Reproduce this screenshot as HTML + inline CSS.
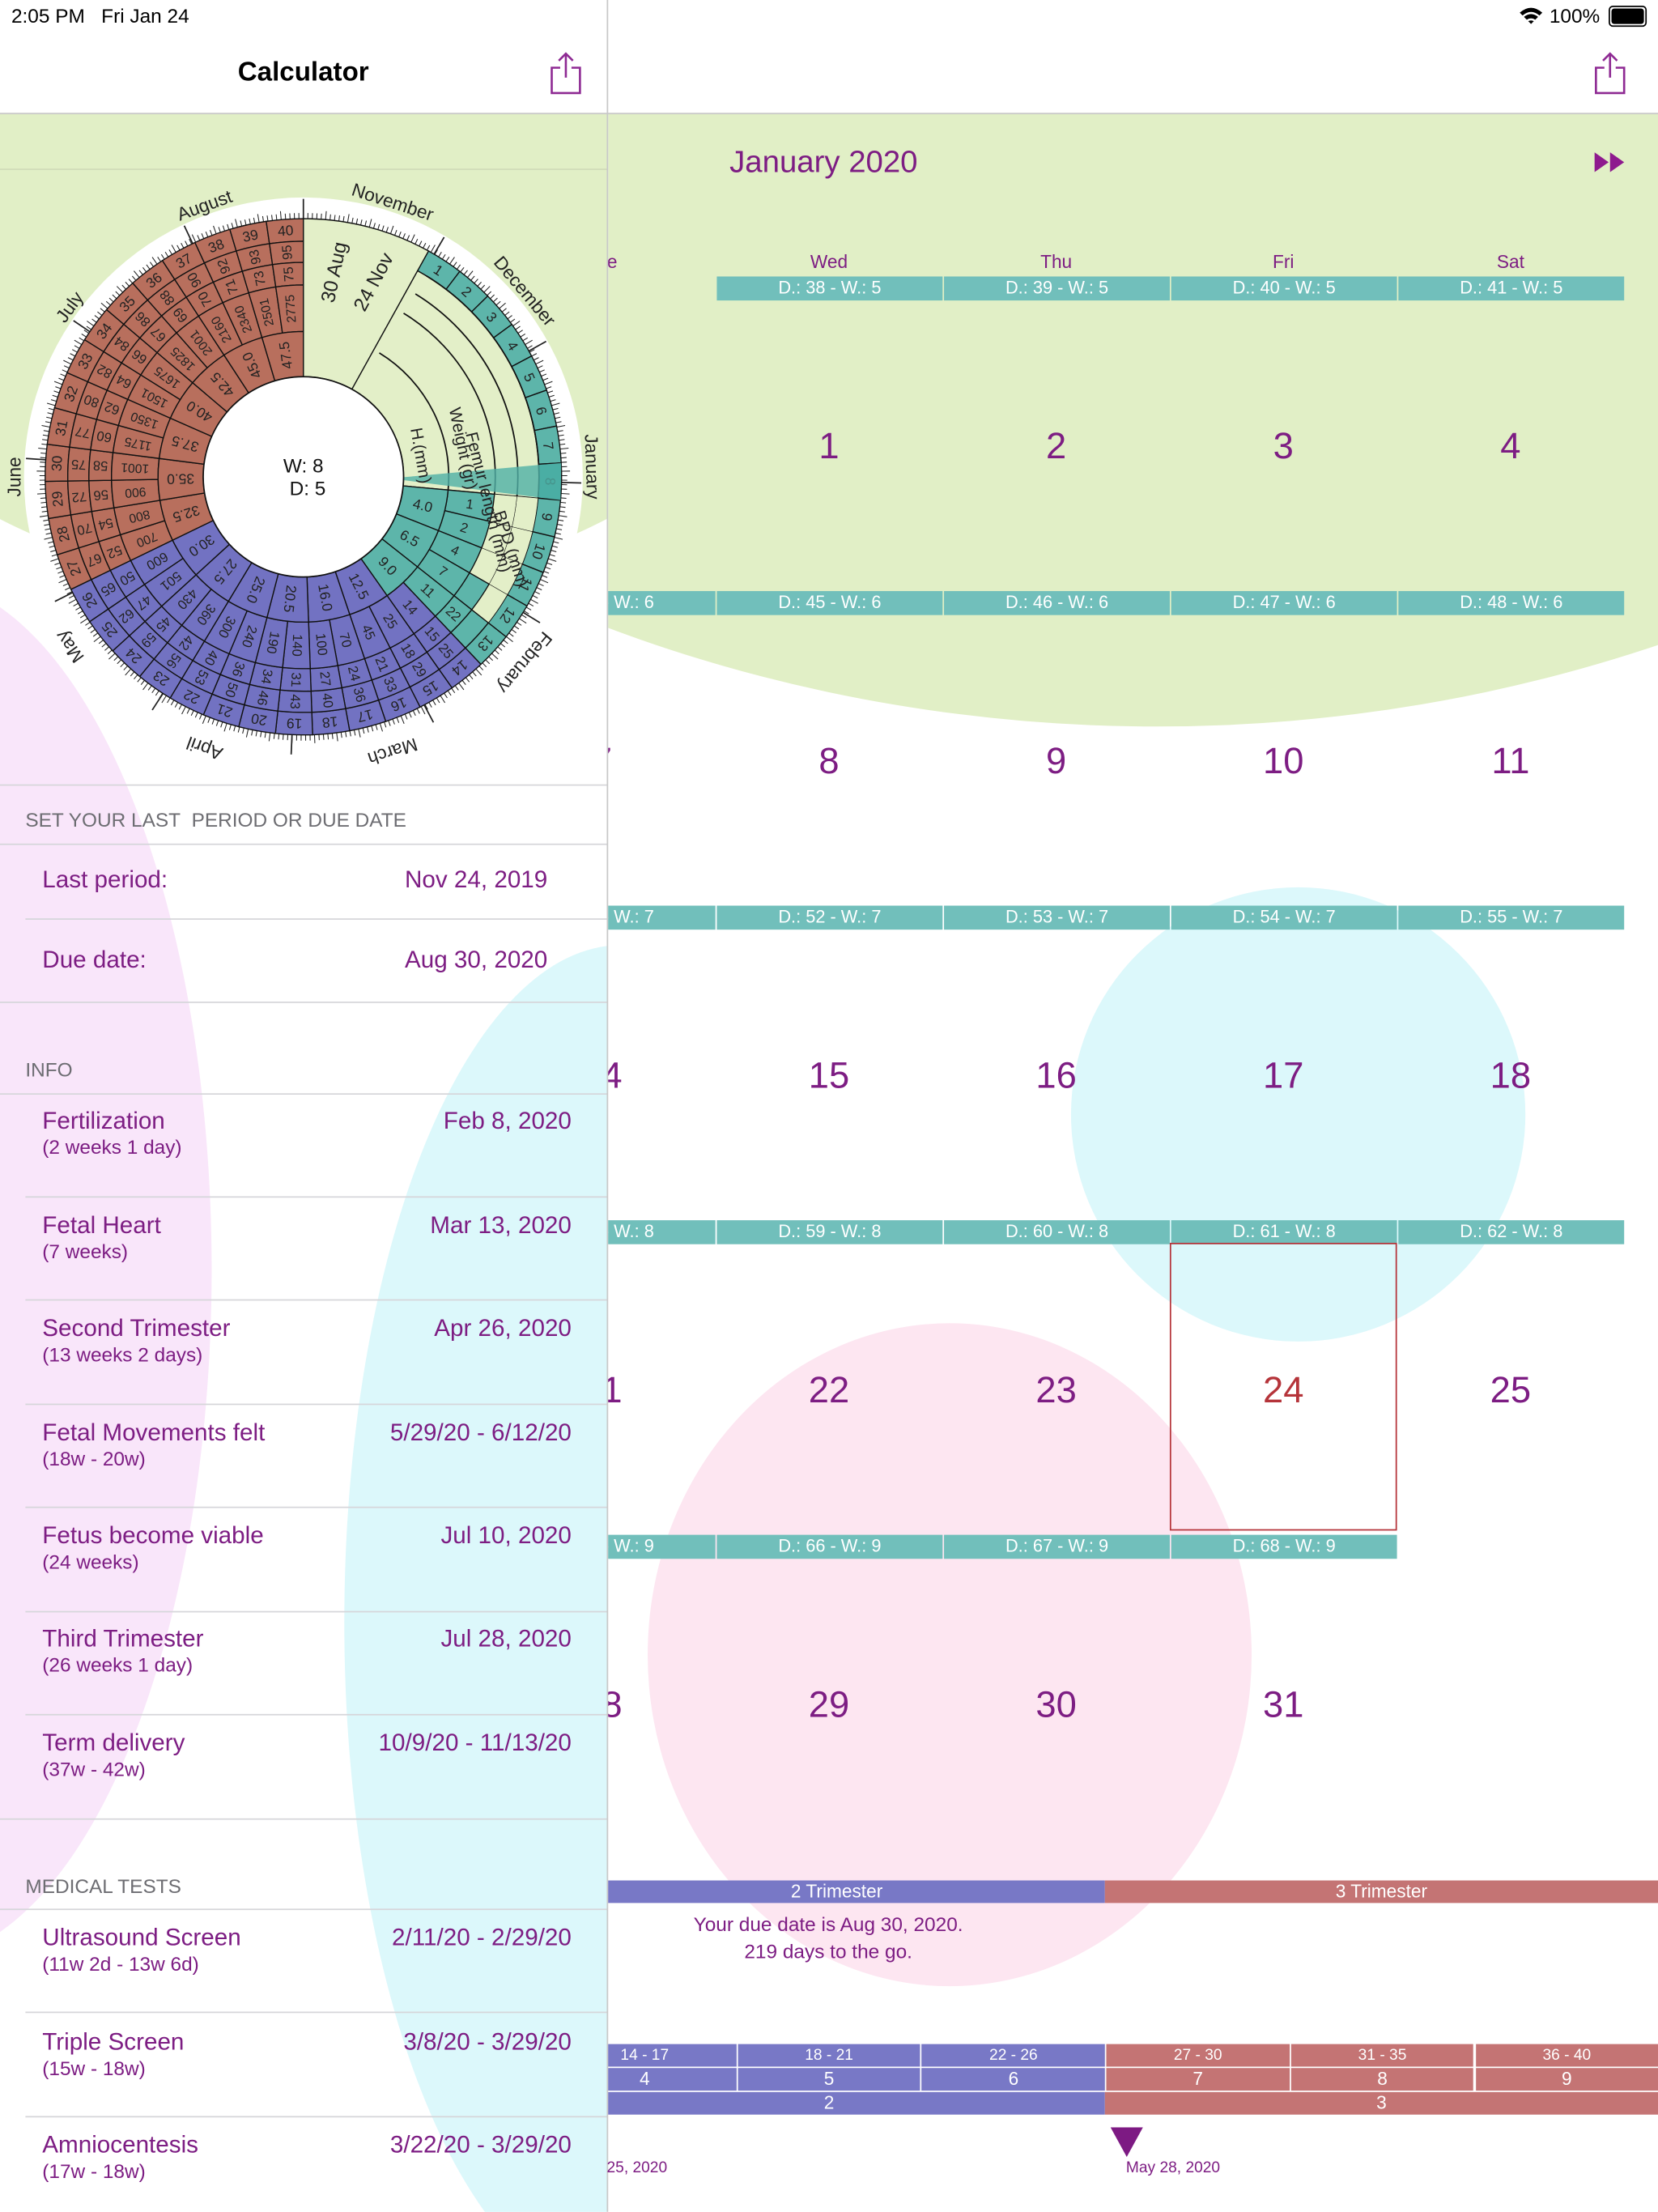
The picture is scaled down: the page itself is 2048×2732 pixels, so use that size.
<!DOCTYPE html>
<html><head><meta charset="utf-8">
<style>
html,body{margin:0;padding:0;width:2048px;height:2732px;overflow:hidden;background:#fff}
#w{position:absolute;left:0;top:0;width:1175px;height:1568px;transform:scale(1.743,1.7423);transform-origin:0 0;overflow:hidden;font-family:"Liberation Sans",sans-serif;color:#7d1d83}
.a{position:absolute;white-space:nowrap}
.g{color:#6d6d72;font-size:14px}
.ln{position:absolute;height:1px;background:#d6d6da}
.t{font-size:17px}
.s{font-size:14px}
.bar{position:absolute;height:17px;background:#71bfbb;color:#fff;font-size:12.5px;text-align:center;line-height:17px;overflow:hidden}
.num{position:absolute;font-size:26px;text-align:center;width:161px}
</style></head><body>
<div id="w">
<svg class="a" style="left:0;top:0" width="1175" height="1568">
 <defs><clipPath id="cl"><rect x="0" y="80" width="430" height="1488"/></clipPath>
 <clipPath id="cr"><rect x="431" y="80" width="744" height="1488"/></clipPath></defs>
 <g clip-path="url(#cl)">
  <circle cx="215" cy="-50" r="470" fill="#e1efc6"/>
  <ellipse cx="-60" cy="900" rx="210" ry="490" fill="#f9e6fa"/>
  <ellipse cx="440" cy="1150" rx="196" ry="480" fill="#dcf8fb"/>
 </g>
 <g clip-path="url(#cr)">
  <ellipse cx="820" cy="-300" rx="960" ry="815" fill="#e1efc6"/>
  <circle cx="920" cy="790" r="161" fill="#dcf8fb"/>
  <ellipse cx="673" cy="1173" rx="214" ry="235" fill="#fde6f1"/>
 </g>
 <line x1="0" y1="120" x2="430" y2="120" stroke="#d0dcb8"/>
 <line x1="0" y1="80.5" x2="1175" y2="80.5" stroke="#c8c8c8"/>
 <line x1="430.5" y1="0" x2="430.5" y2="1568" stroke="#c8c8c8"/>
 <g id="wheel"></g>
</svg>

<div class="a" style="left:8px;top:3px;font-size:14px;color:#000">2:05 PM&nbsp;&nbsp; Fri Jan 24</div>
<div class="a" style="left:1098px;top:3px;font-size:14px;color:#000">100%</div>
<svg class="a" style="left:1076px;top:4px" width="18" height="14"><path d="M1 5 Q9 -2 17 5 L15 7 Q9 2 3 7Z M4 8 Q9 4 14 8 L12 10 Q9 8 6 10Z M7 11 Q9 10 11 11 L9 13Z" fill="#000"/></svg>
<div class="a" style="left:1140px;top:4px;width:23px;height:11px;border:1px solid #000;border-radius:3px;padding:1px;box-sizing:content-box"><div style="width:23px;height:11px;background:#000;border-radius:2px"></div></div>
<div class="a" style="left:0;top:41px;width:430px;text-align:center;font-size:19px;font-weight:bold;color:#000">Calculator</div>
<svg class="a" style="left:389px;top:36px" width="24" height="32"><path d="M12 2 V19 M7 7 L12 2 L17 7 M8 12 H2 V30 H22 V12 H16" fill="none" stroke="#8e2a93" stroke-width="1.5"/></svg>
<svg class="a" style="left:1129px;top:36px" width="24" height="32"><path d="M12 2 V19 M7 7 L12 2 L17 7 M8 12 H2 V30 H22 V12 H16" fill="none" stroke="#8e2a93" stroke-width="1.5"/></svg>

<div class="ln" style="left:0;top:556px;width:430px"></div>
<div class="a g" style="left:18px;top:573px">SET YOUR LAST&nbsp; PERIOD OR DUE DATE</div>
<div class="ln" style="left:0;top:598px;width:430px"></div>
<div class="a t" style="left:30px;top:614px">Last period:</div><div class="a t" style="right:787px;top:614px">Nov 24, 2019</div>
<div class="ln" style="left:18px;top:651px;width:412px"></div>
<div class="a t" style="left:30px;top:671px">Due date:</div><div class="a t" style="right:787px;top:671px">Aug 30, 2020</div>
<div class="ln" style="left:0;top:710px;width:430px"></div>
<div class="a g" style="left:18px;top:750px">INFO</div>
<div class="ln" style="left:0;top:775px;width:430px"></div>
<div id="info"></div>

<div class="a" style="left:517px;top:102px;font-size:22px">January 2020</div>
<svg class="a" style="left:1130px;top:108px" width="22" height="14"><path d="M0 0 L10 7 L0 14Z M11 0 L21 7 L11 14Z" fill="#8e1a8e"/></svg>
<div id="cal" class="a" style="left:431px;top:0;width:744px;height:1568px;overflow:hidden"></div>
<div class="a" style="left:829px;top:881px;width:159px;height:202px;border:1px solid #b5343a"></div>

<div class="a" style="left:431px;top:1333px;width:744px;height:170px;overflow:hidden">
<div class="a" style="left:-28px;top:0;width:380px;height:16px;background:#7878c6;color:#fff;font-size:13px;text-align:center;line-height:16px">2 Trimester</div>
<div class="a" style="left:352px;top:0;width:392px;height:16px;background:#c47474;color:#fff;font-size:13px;text-align:center;line-height:16px">3 Trimester</div>
<div id="tl"></div>
</div>
<div class="a" style="left:431px;top:1355px;width:312px;text-align:center;font-size:14px;line-height:19px">Your due date is Aug 30, 2020.<br>219 days to the go.</div>
<svg class="a" style="left:787px;top:1508px" width="24" height="22"><path d="M0 0 H23 L11.5 21Z" fill="#7d1a83"/></svg>
<div class="a" style="left:430px;top:1531px;font-size:11px">25, 2020</div>
<div class="a" style="left:798px;top:1531px;font-size:11px">May 28, 2020</div>
</div>
<script>
var NS="http://www.w3.org/2000/svg";
var W=document.getElementById('wheel');
function el(t,a,p){var e=document.createElementNS(NS,t);for(var k in a)e.setAttribute(k,a[k]);(p||W).appendChild(e);return e;}
var cx=215,cy=338;
function pt(r,a){var d=a*Math.PI/180;return [cx+r*Math.sin(d),cy-r*Math.cos(d)];}
function sec(r1,r2,a1,a2,fill,sw){var p1=pt(r2,a1),p2=pt(r2,a2),p3=pt(r1,a2),p4=pt(r1,a1);var lg=(a2-a1)>180?1:0;
 el('path',{d:'M'+p1+' A'+r2+' '+r2+' 0 '+lg+' 1 '+p2+' L'+p3+' A'+r1+' '+r1+' 0 '+lg+' 0 '+p4+'Z',fill:fill,stroke:'#111','stroke-width':sw||0.8});}
function txt(s,r,a,rot,size){var p=pt(r,a);var t=el('text',{x:p[0],y:p[1],'font-size':size||10,'text-anchor':'middle','dominant-baseline':'central',fill:'#222',transform:'rotate('+rot+' '+p[0]+' '+p[1]+')','font-family':'Liberation Sans,sans-serif'});t.textContent=s;return t;}
el('circle',{cx:cx,cy:cy,r:198,fill:'#fff'});
for(var i=0;i<365;i++){var a=i*360/365;var p1=pt(183,a),p2=pt(i%5==0?189:187,a);el('line',{x1:p1[0],y1:p1[1],x2:p2[0],y2:p2[1],stroke:'#222','stroke-width':0.6});}
for(var m=0;m<12;m++){var a=m*30.42;var p1=pt(183,a),p2=pt(197,a);el('line',{x1:p1[0],y1:p1[1],x2:p2[0],y2:p2[1],stroke:'#222','stroke-width':1});}
var LG='#e3efc8';
sec(71,183,0,29,LG);
var S=8.275;
function col(i){return i<=13?'#5db5aa':(i<=26?'#7272c2':'#b86f5d');}
var bpd={},fem={},wt={};
var bv=[25,29,33,36,40,43,46,50,53,56,59,62,65,67,70,72,75,77,80,82,84,86,88,90,92,93,95];
var fv=[15,18,21,24,27,31,34,36,40,42,45,47,50,52,54,56,58,60,62,64,66,67,69,70,71,73,75];
var wv=[14,25,45,70,100,140,190,240,300,360,430,501,600,700,800,900,1001,1175,1350,1501,1675,1825,2001,2160,2340,2501,2775];
for(var i=14;i<=40;i++){bpd[i]=bv[i-14];fem[i]=fv[i-14];wt[i]=wv[i-14];}
wt[9]=1;wt[10]=2;wt[11]=4;wt[12]=7;wt[13]=11;fem[13]=22;
sec(71,167,29,29+8*S,LG);
for(var i=1;i<=40;i++){var a1=29+(i-1)*S,a2=a1+S,am=(a1+a2)/2;
 sec(167,183,a1,a2,i==8?'#3aa49a':col(i));txt(String(i),175,am,am,10);
 if(i<=8)continue;
 var c=col(i);
 if(i<=12){sec(152,167,a1,a2,LG,0.3);}else{sec(152,167,a1,a2,c);}
 if(i<=11){sec(136,152,a1,a2,LG,0.3);}else{sec(136,152,a1,a2,c);}
 sec(103,136,a1,a2,c);
 if(bpd[i])txt(String(bpd[i]),159.5,am,am-90,9.5);
 if(fem[i])txt(String(fem[i]),144,am,am-90,9.5);
 if(wt[i])txt(String(wt[i]),119.5,am,am-90,i>26?9:9.5);
}
var hv=["4.0","6.5","9.0","12.5","16.0","20.5","25.0","27.5","30.0","32.5","35.0","37.5","40.0","42.5","45.0","47.5"];
for(var k=0;k<16;k++){var w1=9+2*k;var a1=29+(w1-1)*S,a2=a1+2*S,am=(a1+a2)/2;sec(71,103,a1,a2,col(w1));txt(hv[k],87,am,am-90,10);}
// arcs in light area
[103,136,152,167].forEach(function(r){var p1=pt(r,29+S*0.3),p2=pt(r,29+8*S);el('path',{d:'M'+p1+' A'+r+' '+r+' 0 0 1 '+p2,fill:'none',stroke:'#111','stroke-width':1});});
var a8=29+7*S;el('path',{d:(function(){var p1=pt(183,a8),p2=pt(183,a8+S),p3=pt(71,a8+S*0.6),p4=pt(71,a8+S*0.4);return 'M'+p1+' L'+p2+' L'+p3+' L'+p4+'Z';})(),fill:'#4fb0a6',opacity:0.8});
el('circle',{cx:cx,cy:cy,r:71,fill:'#fff',stroke:'#111','stroke-width':1});
var t=el('text',{x:215,y:335,'font-size':14,'text-anchor':'middle',fill:'#111','font-family':'Liberation Sans,sans-serif'});t.textContent='W: 8';
t=el('text',{x:218,y:351,'font-size':14,'text-anchor':'middle',fill:'#111','font-family':'Liberation Sans,sans-serif'});t.textContent='D: 5';
function lab(s,x,y,r,sz){var t=el('text',{x:x,y:y,'font-size':sz||13,'text-anchor':'middle','dominant-baseline':'central',fill:'#222',transform:'rotate('+r+' '+x+' '+y+')','font-family':'Liberation Sans,sans-serif'});t.textContent=s;}
lab('30 Aug',237,193,-78,14);lab('24 Nov',265,200,-62,14);
lab('H.(mm)',298,323,80,12);lab('Weight (gr)',328,318,78,12);lab('Femur length (mm)',346,356,76,12);lab('BPD (mm)',362,389,72,12);
var months=[['November',18],['December',50],['January',88],['February',130],['March',162],['April',200],['May',234],['June',270],['July',306],['August',340]];
months.forEach(function(m){txt(m[0],205,m[1],m[1],13);});
var info=document.getElementById('info');
var items=[['Fertilization','(2 weeks 1 day)','Feb 8, 2020',794],['Fetal Heart','(7 weeks)','Mar 13, 2020',868],['Second Trimester','(13 weeks 2 days)','Apr 26, 2020',941],['Fetal Movements felt','(18w - 20w)','5/29/20 - 6/12/20',1015],['Fetus become viable','(24 weeks)','Jul 10, 2020',1088],['Third Trimester','(26 weeks 1 day)','Jul 28, 2020',1161],['Term delivery','(37w - 42w)','10/9/20 - 11/13/20',1235],
['Ultrasound Screen','(11w 2d - 13w 6d)','2/11/20 - 2/29/20',1373],['Triple Screen','(15w - 18w)','3/8/20 - 3/29/20',1447],['Amniocentesis','(17w - 18w)','3/22/20 - 3/29/20',1520]];
var h='';
items.forEach(function(it){var y=it[3];h+='<div class="a t" style="left:30px;top:'+(y-9)+'px">'+it[0]+'</div><div class="a s" style="left:30px;top:'+(y+11)+'px">'+it[1]+'</div><div class="a t" style="right:770px;top:'+(y-9)+'px">'+it[2]+'</div>';});
[848,921,995,1068,1142,1215,1426,1500].forEach(function(y){h+='<div class="ln" style="left:18px;top:'+y+'px;width:412px"></div>';});
h+='<div class="ln" style="left:0;top:1289px;width:430px"></div><div class="a g" style="left:18px;top:1329px">MEDICAL TESTS</div><div class="ln" style="left:0;top:1353px;width:430px"></div>';
info.innerHTML=h;
var c='',names=['Tue','Wed','Thu','Fri','Sat'];
for(var j=0;j<5;j++){var x=-85+j*161;c+='<div class="a" style="left:'+x+'px;top:178px;width:161px;text-align:center;font-size:13px">'+names[j]+'</div>';}
for(var r=0;r<5;r++){for(var j=0;j<5;j++){var d=r*7+j;if(d<1||d>31)continue;var x=-85+j*161,y=195+r*223;var D=37+d;
 var col2=(d==24)?'#b5343a':'';
 c+='<div class="bar" style="left:'+(x+1)+'px;top:'+(y+1)+'px;width:160px">D.: '+D+' - W.: '+Math.floor(D/7)+'</div>';
 c+='<div class="num" style="left:'+x+'px;top:'+(y+106)+'px;'+(col2?'color:'+col2:'')+'">'+d+'</div>';}}
document.getElementById('cal').innerHTML=c;
var tl='',hd=['14 - 17','18 - 21','22 - 26','27 - 30','31 - 35','36 - 40'];
for(var k=0;k<6;k++){var x=-39+k*130.7,b=k<3?'#7878c6':'#c47474';
 tl+='<div class="a" style="left:'+x+'px;top:116px;width:129.7px;height:16px;background:'+b+';color:#fff;font-size:11px;text-align:center;line-height:16px">'+hd[k]+'</div>';
 tl+='<div class="a" style="left:'+x+'px;top:133px;width:129.7px;height:16px;background:'+b+';color:#fff;font-size:13px;text-align:center;line-height:16px">'+(k+4)+'</div>';}
tl+='<div class="a" style="left:-39px;top:150px;width:391px;height:16px;background:#7878c6;color:#fff;font-size:13px;text-align:center;line-height:16px">2</div>';
tl+='<div class="a" style="left:352px;top:150px;width:392px;height:16px;background:#c47474;color:#fff;font-size:13px;text-align:center;line-height:16px">3</div>';
document.getElementById('tl').innerHTML=tl;
</script>
</body></html>
